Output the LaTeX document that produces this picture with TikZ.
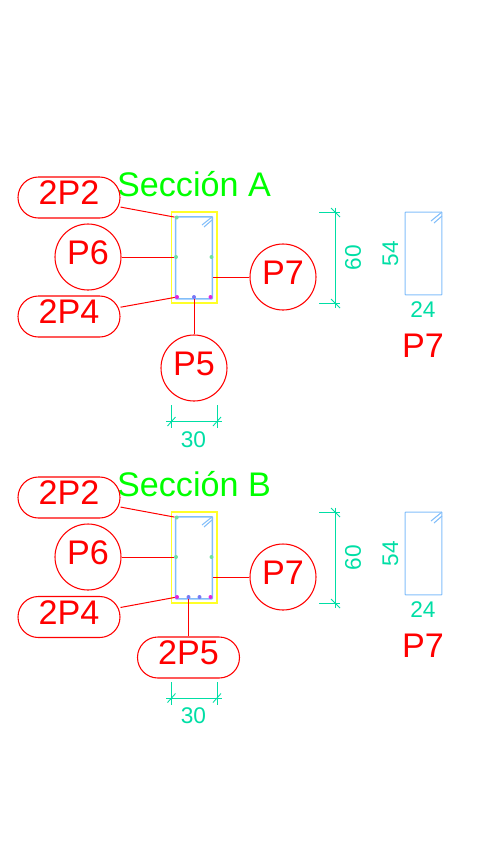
\documentclass[tikz,border=0pt]{standalone}
\usepackage{fontspec}
\setmainfont{Liberation Sans}
\definecolor{cadred}{RGB}{255,0,0}
\definecolor{cadgreen}{RGB}{0,255,0}
\definecolor{cadteal}{RGB}{0,222,165}
\definecolor{cadblue}{RGB}{130,190,250}
\definecolor{cadyellow}{RGB}{255,255,40}
\definecolor{cadmag}{RGB}{225,40,225}
\definecolor{cadviolet}{RGB}{120,120,245}
\definecolor{cadmint}{RGB}{110,225,160}
\tikzset{
  circlabel/.style={draw=cadred,line width=0.8pt,circle,inner sep=0pt,minimum size=49.5pt,text=cadred,font=\fontsize{25.6}{25.6}\selectfont,text height=18.4pt,text depth=7.6pt},
  pilllabel/.style={draw=cadred,line width=0.8pt,rectangle,rounded corners=15.3pt,inner sep=0pt,minimum width=76.5pt,minimum height=30.75pt,text=cadred,font=\fontsize{25.6}{25.6}\selectfont,text height=18.4pt,text depth=7.6pt},
  leader/.style={cadred,line width=0.75pt},
  title/.style={text=cadgreen,font=\fontsize{25.6}{25.6}\selectfont,inner sep=0pt},
  marktext/.style={text=cadred,font=\fontsize{25.6}{25.6}\selectfont,inner sep=0pt},
  dimtext/.style={text=cadteal,font=\fontsize{17}{17}\selectfont,inner sep=0pt},
  dimline/.style={cadteal,line width=0.65pt},
  concrete/.style={draw=cadyellow,line width=1.1pt,rectangle,inner sep=0pt,minimum width=34pt,minimum height=68pt},
  stirrup/.style={draw=cadblue,line width=1.2pt,rectangle,rounded corners=0.5pt,inner sep=0pt,minimum width=27.6pt,minimum height=61.5pt},
  detail/.style={draw=cadblue,line width=0.8pt,rectangle,rounded corners=0.5pt,inner sep=0pt,minimum width=27.6pt,minimum height=62pt},
  hook/.style={cadblue,line width=0.8pt},
  bargreen/.style={circle,fill=cadmint,inner sep=0pt,minimum size=3pt},
  barmag/.style={circle,fill=cadmag,inner sep=0pt,minimum size=3pt},
  barviolet/.style={circle,fill=cadviolet,inner sep=0pt,minimum size=3pt}
}
\begin{document}
\begin{tikzpicture}[x=0.75pt,y=-0.75pt]
\useasboundingbox (0,0) rectangle (495,858);

% Seccion A
\node[title] (titleA) at (194,184.5) {Sección A};
\node[concrete] (concA) at (194.2,257.5) {};
\node[stirrup] (stirA) at (194,257.8) {};
\draw[hook] (212,217) -- (202,225);
\draw[hook] (212,220) -- (204,227);
\node[bargreen] (tlA) at (176.7,217.5) {};
\node[bargreen] (mlA) at (176,257) {};
\node[bargreen] (mrA) at (211.5,257) {};
\node[barmag] (blA) at (177,297) {};
\node[barmag] (brA) at (210.5,297) {};
\node[barviolet] (bcA) at (194,297) {};
\coordinate (sideA) at (213,277);

\node[pilllabel] (twoptwoA) at (69,197.5) {2P2};
\node[pilllabel] (twopfourA) at (69,316.5) {2P4};
\node[circlabel] (psixA) at (88,257) {P6};
\node[circlabel] (psevenA) at (283,277) {P7};
\node[circlabel] (pfiveA) at (194,368) {P5};
\draw[leader] (twoptwoA) -- (tlA);
\draw[leader] (twopfourA) -- (blA);
\draw[leader] (psixA) -- (mlA);
\draw[leader] (psevenA) -- (sideA);
\draw[leader] (pfiveA) -- (bcA);

% Cota 30
\coordinate (wlA) at (166,421.5);
\coordinate (wrA) at (222,421.5);
\draw[dimline] (wlA) -- (wrA);
\draw[dimline] (171.5,405) -- (171.5,428);
\draw[dimline] (217,405) -- (217,428);
\draw[dimline] (167.5,426) -- (175.5,417);
\draw[dimline] (213,426) -- (221,417);
\node[dimtext] (thirtyA) at (193.5,440) {30};

% Cota 60
\coordinate (htA) at (335,207.5);
\coordinate (hbA) at (335,308);
\draw[dimline] (htA) -- (hbA);
\draw[dimline] (319,212.5) -- (340,212.5);
\draw[dimline] (319,303) -- (340,303);
\draw[dimline] (331,208) -- (340,217);
\draw[dimline] (331,299) -- (340,308);
\node[dimtext,rotate=90] (sixtyA) at (353,257.5) {60};

% Detalle P7
\node[detail] (detA) at (423.5,253.5) {};
\draw[hook] (442,212) -- (431,221);
\draw[hook] (442,216) -- (434,223);
\node[dimtext,rotate=90] (fiftyfourA) at (390.5,253.5) {54};
\node[dimtext] (twentyfourA) at (423,310) {24};
\node[marktext] (markA) at (423,346) {P7};

% Seccion B
\node[title] (titleB) at (194,484.5) {Sección B};
\node[concrete] (concB) at (194.2,557.5) {};
\node[stirrup] (stirB) at (194,557.8) {};
\draw[hook] (212,517) -- (202,525);
\draw[hook] (212,520) -- (204,527);
\node[bargreen] (tlB) at (176.7,517.5) {};
\node[bargreen] (mlB) at (176,557) {};
\node[bargreen] (mrB) at (211.5,557) {};
\node[barmag] (blB) at (177,597) {};
\node[barmag] (brB) at (210.5,597) {};
\node[barviolet] (bcB) at (188.5,597) {};
\node[barviolet] (bdB) at (199.5,597) {};
\coordinate (sideB) at (213,577);

\node[pilllabel] (twoptwoB) at (69,497.5) {2P2};
\node[pilllabel] (twopfourB) at (69,617) {2P4};
\node[pilllabel] (twopfiveB) at (188.5,657.5) {2P5};
\node[circlabel] (psixB) at (88,557) {P6};
\node[circlabel] (psevenB) at (283,577) {P7};
\draw[leader] (twoptwoB) -- (tlB);
\draw[leader] (twopfourB) -- (blB);
\draw[leader] (psixB) -- (mlB);
\draw[leader] (psevenB) -- (sideB);
\draw[leader] (twopfiveB) -- (bcB);

% Cota 30
\coordinate (wlB) at (166,698);
\coordinate (wrB) at (222,698);
\draw[dimline] (wlB) -- (wrB);
\draw[dimline] (171.5,682) -- (171.5,705);
\draw[dimline] (217,682) -- (217,705);
\draw[dimline] (167.5,702.5) -- (175.5,693.5);
\draw[dimline] (213,702.5) -- (221,693.5);
\node[dimtext] (thirtyB) at (193.5,716) {30};

% Cota 60
\coordinate (htB) at (335,507.5);
\coordinate (hbB) at (335,608);
\draw[dimline] (htB) -- (hbB);
\draw[dimline] (319,512.5) -- (340,512.5);
\draw[dimline] (319,603) -- (340,603);
\draw[dimline] (331,508) -- (340,517);
\draw[dimline] (331,599) -- (340,608);
\node[dimtext,rotate=90] (sixtyB) at (353,557.5) {60};

% Detalle P7
\node[detail] (detB) at (423.5,553.5) {};
\draw[hook] (442,512) -- (431,521);
\draw[hook] (442,516) -- (434,523);
\node[dimtext,rotate=90] (fiftyfourB) at (390.5,553.5) {54};
\node[dimtext] (twentyfourB) at (423,610) {24};
\node[marktext] (markB) at (423,646) {P7};
\end{tikzpicture}
\end{document}
